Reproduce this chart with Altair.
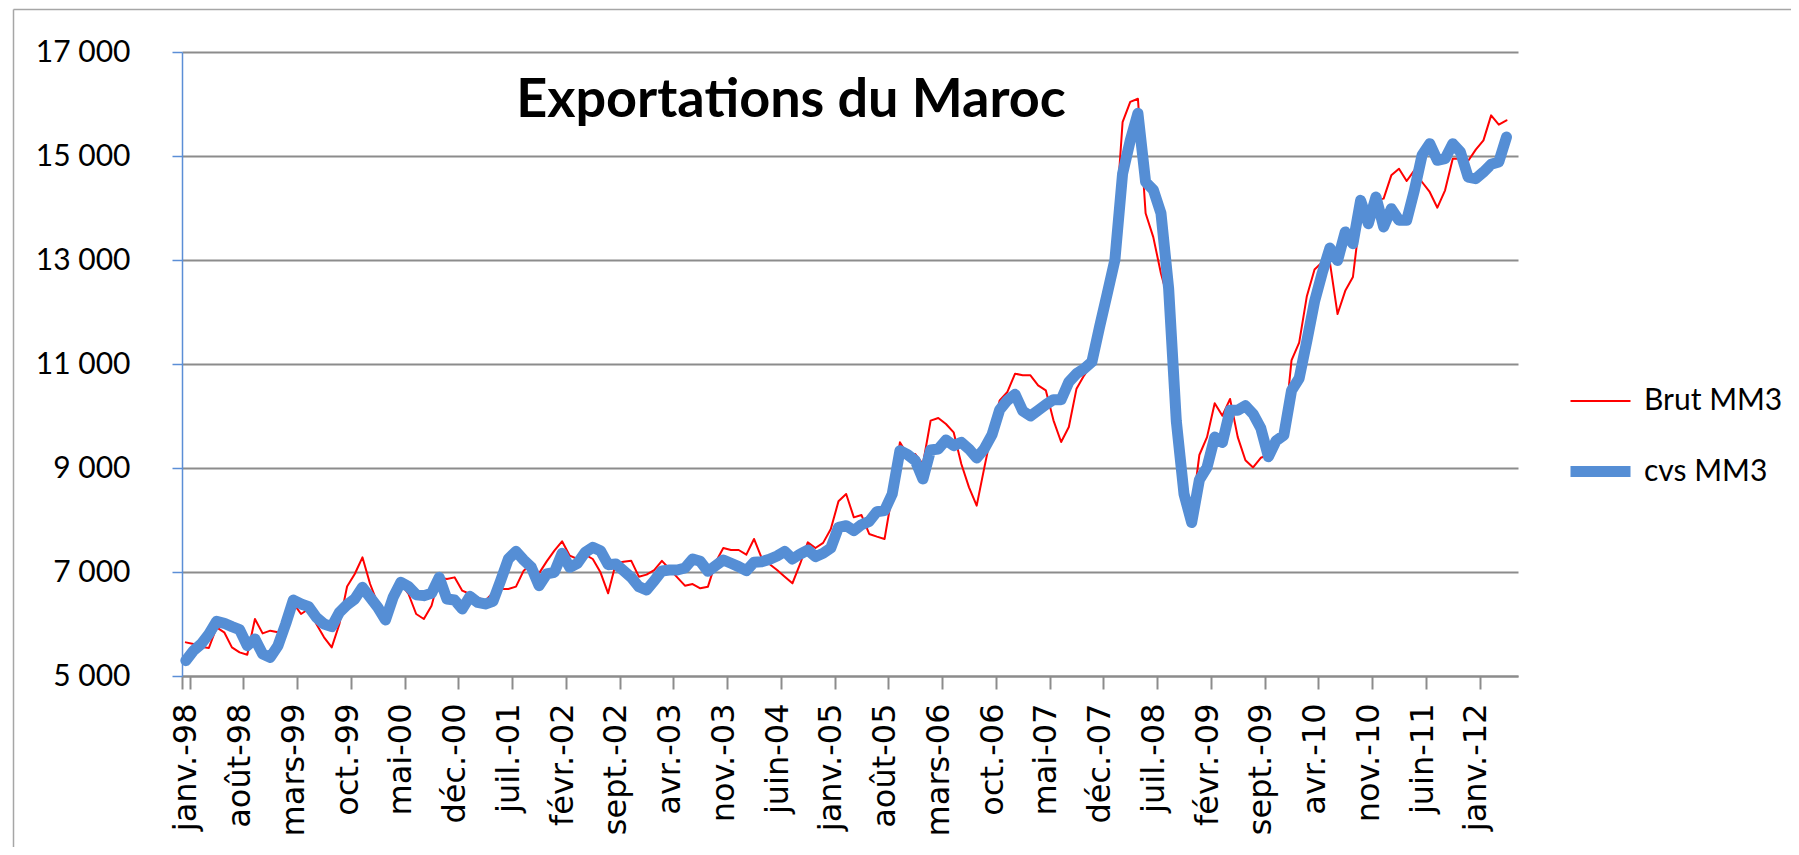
import altair as alt
import pandas as pd

TITLE = "Exportations du Maroc"
MONTH_NAMES = ["janv.", "févr.", "mars", "avr.", "mai", "juin",
               "juil.", "août", "sept.", "oct.", "nov.", "déc."]
FIRST_YEAR = 1998
N_MONTHS = 174          # janv.-98 ... juin-12 (last category empty)
LABEL_STEP = 7
SERIES = ["Brut MM3", "cvs MM3"]
COLORS = ["#FF0000", "#558ED5"]
WIDTHS = [2, 11]
Y_TICKS = [5000, 7000, 9000, 11000, 13000, 15000, 17000]

BRUT = [
    5647, 5615, 5560, 5538, 5936, 5840, 5551, 5455, 5410, 6096,
    5820, 5872, 5840, 5940, 6400, 6192, 6288, 6000, 5744, 5551,
    6000, 6720, 6962, 7282, 6769, 6385, 6100, 6480, 6770, 6577,
    6192, 6096, 6353, 6897, 6865, 6897, 6641, 6577, 6513, 6450,
    6600, 6673, 6673, 6718, 7026, 7154, 6974, 7205, 7410, 7590,
    7314, 7250, 7333, 7250, 6994, 6590, 7167, 7199, 7218, 6910,
    6949, 7038, 7215, 7058, 6897, 6737, 6769, 6686, 6718, 7186,
    7461, 7423, 7423, 7333, 7635, 7269, 7154, 7038, 6910, 6782,
    7154, 7570, 7461, 7560, 7827, 8359, 8500, 8051, 8096, 7731,
    7680, 7635, 8500, 9494, 9256, 9269, 9077, 9910, 9962, 9846,
    9686, 9077, 8628, 8276, 9013, 9725, 10301, 10462, 10814, 10782,
    10782, 10590, 10494, 9917, 9500, 9789, 10526, 10782, 11007, 11712,
    12480, 13500, 15650, 16040, 16100, 13900, 13440, 12740, 12200, 10000,
    8600, 8100, 9250, 9594, 10246, 10006, 10328, 9594, 9148, 9011,
    9196, 9251, 9400, 9594, 11069, 11412, 12304, 12818, 12956, 12956,
    11961, 12407, 12673, 13900, 13700, 14150, 14180, 14628, 14756, 14519,
    14724, 14500, 14308, 14006, 14340, 14949, 14949, 14904, 15122, 15301,
    15782, 15603, 15686,
]

CVS = [
    5295, 5487, 5615, 5808, 6051, 6013, 5949, 5891, 5583, 5712,
    5423, 5359, 5583, 6000, 6461, 6385, 6333, 6128, 6000, 5949,
    6224, 6370, 6481, 6705, 6513, 6321, 6077, 6513, 6801, 6718,
    6564, 6545, 6590, 6897, 6481, 6461, 6288, 6532, 6417, 6385,
    6436, 6833, 7250, 7397, 7231, 7090, 6737, 6962, 6994, 7359,
    7090, 7167, 7378, 7474, 7410, 7141, 7154, 7026, 6897, 6718,
    6654, 6833, 7020, 7038, 7038, 7077, 7250, 7205, 7013, 7122,
    7231, 7167, 7103, 7026, 7186, 7199, 7243, 7308, 7397, 7250,
    7346, 7423, 7295, 7360, 7462, 7859, 7891, 7795, 7910, 7974,
    8160, 8180, 8500, 9333, 9256, 9141, 8788, 9346, 9365, 9538,
    9429, 9494, 9365, 9192, 9372, 9640, 10122, 10301, 10417, 10096,
    10000, 10109, 10218, 10314, 10314, 10654, 10814, 10910, 11039, 11712,
    12353, 13000, 14660, 15300, 15820, 14500, 14350, 13900, 12450, 9900,
    8500, 7950, 8771, 9011, 9594, 9491, 10109, 10109, 10198, 10040,
    9766, 9217, 9526, 9629, 10486, 10726, 11446, 12200, 12750, 13230,
    12990, 13540, 13314, 14147, 13699, 14212, 13635, 13987, 13763, 13763,
    14340, 15013, 15237, 14917, 14949, 15237, 15077, 14596, 14564, 14692,
    14840, 14885, 15365,
]

months = [f"{MONTH_NAMES[i % 12]}-{(FIRST_YEAR + i // 12) % 100:02d}" for i in range(N_MONTHS)]
tick_labels = months[::LABEL_STEP]

rows = []
for name, vals in zip(SERIES, [BRUT, CVS]):
    for i, v in enumerate(vals):
        rows.append({"mois": months[i], "serie": name, "valeur": v, "ordre": i})
df = pd.DataFrame(rows)

GRID = "#8C8C8C"
AXIS_BLUE = "#5B8ED6"
BORDER = "#A6A6A6"
FONT = "Lato"

legend = alt.Legend(
    title=None, orient="none", legendX=1383, legendY=318,
    symbolType="stroke", symbolSize=3600, labelFont=FONT,
    labelFontSize=30, labelColor="black", labelOffset=8, labelLimit=400,
    rowPadding=20, padding=0,
)

lines = alt.Chart(df).mark_line(strokeCap="round", strokeJoin="round").encode(
    x=alt.X("mois:O", sort=None,
            scale=alt.Scale(type="band", domain=months, paddingInner=0, paddingOuter=0),
            axis=alt.Axis(title=None, values=tick_labels, tickBand="extent", labelAngle=-90,
                          grid=False, domainColor=GRID, domainWidth=2, tickColor=GRID,
                          tickWidth=2, tickSize=13, labelFont="DejaVu Sans", labelFontSize=32,
                          labelColor="black", labelPadding=14)),
    y=alt.Y("valeur:Q",
            scale=alt.Scale(domain=[5000, 17000], nice=False, zero=False),
            axis=alt.Axis(title=None, values=Y_TICKS,
                          labelExpr="replace(format(datum.value, ','), ',', ' ')",
                          domainColor=AXIS_BLUE, domainWidth=1.5, tickColor=AXIS_BLUE,
                          tickWidth=1.5, tickSize=10, gridColor=GRID, gridWidth=2,
                          labelFont=FONT, labelFontSize=30,
                          labelColor="black", labelPadding=42)),
    color=alt.Color("serie:N", scale=alt.Scale(domain=SERIES, range=COLORS), legend=legend),
    strokeWidth=alt.StrokeWidth("serie:N", scale=alt.Scale(domain=SERIES, range=WIDTHS), legend=legend),
    order=alt.Order("ordre:Q"),
)

border_df = pd.DataFrame({"k": [0]})
left_rule = alt.Chart(border_df).mark_rule(color=BORDER, strokeWidth=1.5).encode(
    x=alt.value(-168.5), y=alt.value(-42.5), y2=alt.value(830))
top_rule = alt.Chart(border_df).mark_rule(color=BORDER, strokeWidth=1.5).encode(
    x=alt.value(-168.5), x2=alt.value(1640), y=alt.value(-42.5))

title_layer = alt.Chart(pd.DataFrame({"t": [TITLE]})).mark_text(
    font=FONT, fontSize=54, fontWeight="bold",
    align="center", baseline="alphabetic", color="black",
).encode(text="t:N", x=alt.value(609), y=alt.value(65))

chart = alt.layer(left_rule, top_rule, lines, title_layer).properties(
    width=1336, height=624,
    padding={"left": 174, "top": 44, "right": 273, "bottom": 171},
    autosize=alt.AutoSizeParams(type="none"),
).configure_view(stroke=None)

chart.save("out.html", embed_options={"renderer": "svg", "actions": False})
